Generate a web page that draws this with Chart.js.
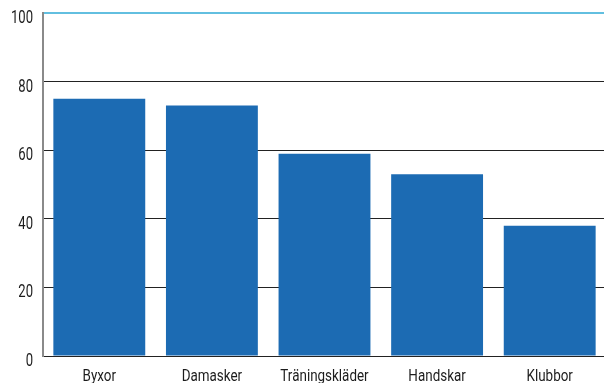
<!DOCTYPE html>
<html>
<head>
<meta charset="utf-8">
<script src="https://cdn.jsdelivr.net/npm/chart.js@4/dist/chart.umd.min.js"></script>
<style>
  html, body { margin: 0; padding: 0; background: #fff; overflow: hidden; }
  #wrap { width: 606px; height: 383px; position: relative; }
</style>
</head>
<body>
<div id="wrap"><canvas id="c"></canvas></div>
<script>
const categories = ['Byxor', 'Damasker', 'Träningskläder', 'Handskar', 'Klubbor'];
const values = [75, 73, 59, 53, 38];
const yTicks = [0, 20, 40, 60, 80, 100];

const FONT = 'Roboto, "DejaVu Sans", sans-serif';
const TEXT = '#1c1c1c';
const SQUEEZE = 0.79; // horizontal compression for a condensed look

// Draws the tick labels in a narrow, condensed style at the scales' own tick positions.
const condensedLabels = {
  id: 'condensedLabels',
  afterDraw(chart) {
    const ctx = chart.ctx;
    const xs = chart.scales.x, ys = chart.scales.y;
    ctx.save();
    ctx.fillStyle = TEXT;

    ctx.font = '18px ' + FONT;
    ctx.textAlign = 'right';
    ctx.textBaseline = 'alphabetic';
    ys.ticks.forEach((t) => {
      const y = ys.getPixelForValue(t.value);
      ctx.save();
      ctx.translate(xs.left - 10, y + 10);
      ctx.scale(SQUEEZE * 0.92, 1);
      ctx.fillText(String(t.value), 0, 0);
      ctx.restore();
    });

    ctx.font = '17px ' + FONT;
    ctx.textAlign = 'center';
    xs.ticks.forEach((t, i) => {
      const x = xs.getPixelForTick(i);
      ctx.save();
      ctx.translate(x, ys.bottom + 24.5);
      ctx.scale(SQUEEZE, 1);
      ctx.fillText(categories[t.value], 0, 0);
      ctx.restore();
    });
    ctx.restore();
  }
};

new Chart(document.getElementById('c'), {
  type: 'bar',
  data: {
    labels: categories,
    datasets: [{
      data: values,
      backgroundColor: '#1c6bb3',
      categoryPercentage: 0.816,
      barPercentage: 1.0
    }]
  },
  options: {
    responsive: true,
    maintainAspectRatio: false,
    animation: false,
    layout: { padding: { top: 13, right: 0, bottom: 0, left: 0 } },
    plugins: { legend: { display: false }, tooltip: { enabled: false } },
    scales: {
      x: {
        grid: { display: false, drawTicks: false },
        border: { display: true, color: '#222', width: 1 },
        ticks: { display: false },
        afterFit(scale) { scale.height = 27; }
      },
      y: {
        min: 0, max: 100,
        afterBuildTicks(scale) { scale.ticks = yTicks.map(v => ({ value: v })); },
        grid: {
          drawTicks: false,
          color(ctx) {
            if (!ctx.tick) return '#222';
            if (ctx.tick.value === 100) return '#62bfe0';
            if (ctx.tick.value === 0) return 'rgba(0,0,0,0)';
            return '#222';
          },
          lineWidth(ctx) { return ctx.tick && ctx.tick.value === 100 ? 2 : 1; }
        },
        border: { display: true, color: '#8a8a8a', width: 2 },
        ticks: { display: false },
        afterFit(scale) { scale.width = 43; }
      }
    }
  },
  plugins: [condensedLabels]
});
</script>
</body>
</html>
